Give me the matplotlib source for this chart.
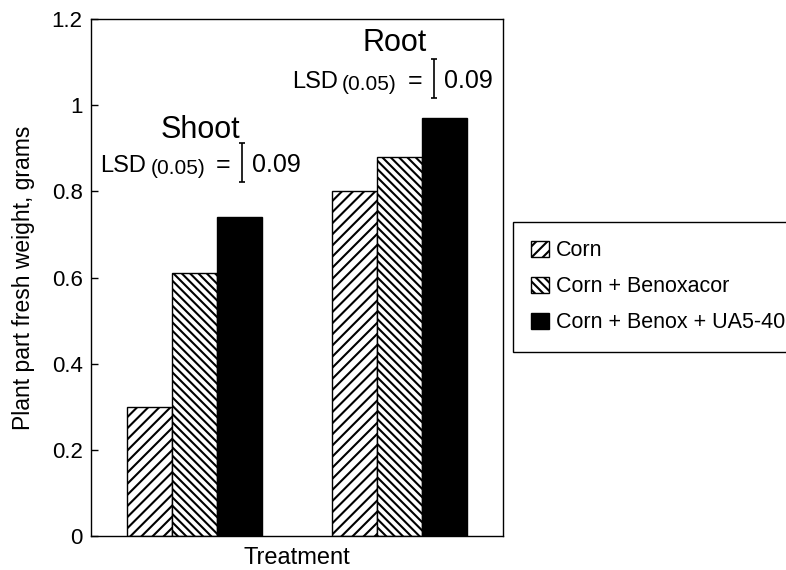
import numpy as np
import matplotlib.pyplot as plt

plt.rcParams['font.family'] = ['Liberation Sans', 'DejaVu Sans']
plt.rcParams['hatch.linewidth'] = 1.5

# fresh weight (g) per plant part and treatment
parts = ['Shoot', 'Root']
treatments = ['Corn', 'Corn + Benoxacor', 'Corn + Benox + UA5-40']
shoot = [0.30, 0.61, 0.74]
root = [0.80, 0.88, 0.97]
lsd = [0.09, 0.09]

hatches = ['///', '\\\\\\\\', '']
fills = ['white', 'white', 'black']

fig = plt.figure(figsize=(7.86, 5.7), dpi=100)
ax = fig.add_axes([91/786, 1 - 536/570, 412/786, 517/570])

x = np.arange(len(parts))
width = 0.22
for i, name in enumerate(treatments):
    vals = [shoot[i], root[i]]
    ax.bar(x + (i - 1) * width, vals, width, color=fills[i], hatch=hatches[i],
           edgecolor='black', linewidth=1, label=name)

ax.set_xlim(-0.505, 1.505)
ax.set_ylim(0, 1.2)
ax.set_yticks(np.arange(0, 1.21, 0.2))
ax.set_yticklabels(['0', '0.2', '0.4', '0.6', '0.8', '1', '1.2'])
ax.set_xticks([])
ax.tick_params(axis='y', direction='in', length=5, width=1, labelsize=16, pad=6)
for s in ax.spines.values():
    s.set_linewidth(1)

ax.set_ylabel('Plant part fresh weight, grams', fontsize=16.5, labelpad=12)
ax.set_xlabel('Treatment', fontsize=17, labelpad=8)

# part titles and LSD brackets
title_pos = [(0.03, 0.943), (0.978, 1.144)]
bracket_pos = [(0.232, 0.867), (1.168, 1.062)]
for name, (tx, ty), (bx, by), d in zip(parts, title_pos, bracket_pos, lsd):
    ax.text(tx, ty, name, fontsize=22, ha='center', va='center')
    ax.errorbar(bx, by, yerr=d / 2, color='black', lw=1.2, capsize=2.5,
                capthick=1.2)
    kw = dict(xy=(bx, by), textcoords='offset pixels', va='baseline')
    ax.annotate(f'{d:.2f}', xytext=(10, -10), ha='left', fontsize=18, **kw)
    ax.annotate('=', xytext=(-12, -10), ha='right', fontsize=18, **kw)
    ax.annotate('(0.05)', xytext=(-37, -12), ha='right', fontsize=15, **kw)
    ax.annotate('LSD', xytext=(-96, -10), ha='right', fontsize=17, **kw)

leg = fig.legend(loc='upper left', bbox_to_anchor=(513/786, 1 - 222/570),
                 fontsize=15.5, handlelength=0.8, handleheight=0.8,
                 handletextpad=0.35, labelspacing=0.7, borderpad=0.85,
                 borderaxespad=0, fancybox=False, framealpha=1,
                 edgecolor='black')
leg.get_frame().set_linewidth(1)

fig.savefig('out.png', dpi=100)
